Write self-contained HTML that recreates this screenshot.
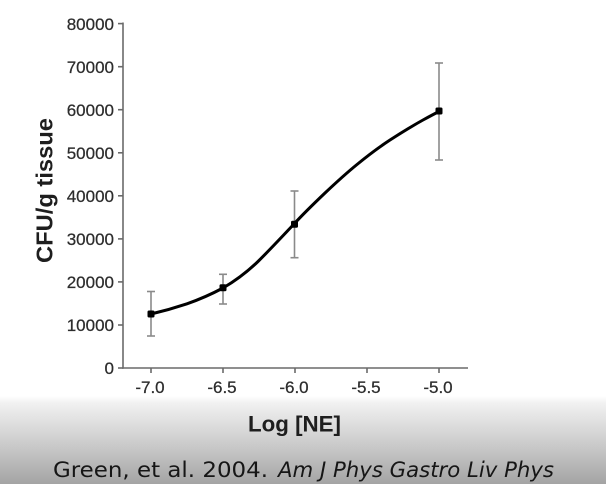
<!DOCTYPE html>
<html>
<head>
<meta charset="utf-8">
<style>
  html,body{margin:0;padding:0;}
  body{width:606px;height:484px;overflow:hidden;background:#fff;}
  svg{display:block;}
</style>
</head>
<body>
<svg width="606" height="484" viewBox="0 0 606 484" xmlns="http://www.w3.org/2000/svg">
  <defs>
    <linearGradient id="bg" x1="0" y1="0" x2="0" y2="1">
      <stop offset="0" stop-color="#ffffff"/>
      <stop offset="0.08" stop-color="#f1f1f1"/>
      <stop offset="0.5" stop-color="#cfcfcf"/>
      <stop offset="1" stop-color="#a4a4a4"/>
    </linearGradient>
  </defs>
  <rect x="0" y="0" width="606" height="484" fill="#ffffff"/>
  <rect x="0" y="396" width="606" height="88" fill="url(#bg)"/>

  <!-- axes -->
  <g stroke="#6a6a6a" stroke-width="1.6" fill="none">
    <line x1="123" y1="22.5" x2="123" y2="368.8"/>
    <line x1="122.2" y1="368" x2="468" y2="368"/>
    <line x1="118" y1="368" x2="123" y2="368"/>
    <line x1="118" y1="325" x2="123" y2="325"/>
    <line x1="118" y1="281.9" x2="123" y2="281.9"/>
    <line x1="118" y1="238.9" x2="123" y2="238.9"/>
    <line x1="118" y1="195.8" x2="123" y2="195.8"/>
    <line x1="118" y1="152.8" x2="123" y2="152.8"/>
    <line x1="118" y1="109.7" x2="123" y2="109.7"/>
    <line x1="118" y1="66.7" x2="123" y2="66.7"/>
    <line x1="118" y1="23.6" x2="123" y2="23.6"/>
    <line x1="151" y1="368" x2="151" y2="373"/>
    <line x1="223" y1="368" x2="223" y2="373"/>
    <line x1="295" y1="368" x2="295" y2="373"/>
    <line x1="367" y1="368" x2="367" y2="373"/>
    <line x1="439" y1="368" x2="439" y2="373"/>
  </g>

  <!-- y tick labels -->
  <g font-family="Liberation Sans, Arial, sans-serif" font-size="17" fill="#2c2c2c" stroke="#2c2c2c" stroke-width="0.25" text-anchor="end">
    <text x="114" y="374">0</text>
    <text x="114" y="331">10000</text>
    <text x="114" y="288">20000</text>
    <text x="114" y="245">30000</text>
    <text x="114" y="202">40000</text>
    <text x="114" y="159">50000</text>
    <text x="114" y="116">60000</text>
    <text x="114" y="73">70000</text>
    <text x="114" y="30">80000</text>
  </g>

  <!-- x tick labels -->
  <g font-family="Liberation Sans, Arial, sans-serif" font-size="17" fill="#2c2c2c" stroke="#2c2c2c" stroke-width="0.25" text-anchor="middle">
    <text x="150" y="393">-7.0</text>
    <text x="222" y="393">-6.5</text>
    <text x="294" y="393">-6.0</text>
    <text x="366" y="393">-5.5</text>
    <text x="438" y="393">-5.0</text>
  </g>

  <!-- axis titles -->
  <text x="294.5" y="431.5" font-family="Liberation Sans, Arial, sans-serif" font-size="22" font-weight="bold" fill="#1e1e1e" text-anchor="middle" textLength="93" lengthAdjust="spacingAndGlyphs">Log [NE]</text>
  <text transform="translate(52.5,190.5) rotate(-90)" x="0" y="0" font-family="Liberation Sans, Arial, sans-serif" font-size="23" font-weight="bold" fill="#1e1e1e" text-anchor="middle" textLength="145" lengthAdjust="spacingAndGlyphs">CFU/g tissue</text>

  <!-- error bars -->
  <g stroke="#8a8a8a" stroke-width="1.6" fill="none">
    <line x1="151" y1="291.5" x2="151" y2="336"/>
    <line x1="147" y1="291.5" x2="155" y2="291.5"/>
    <line x1="147" y1="336" x2="155" y2="336"/>

    <line x1="223" y1="274.3" x2="223" y2="304"/>
    <line x1="219" y1="274.3" x2="227" y2="274.3"/>
    <line x1="219" y1="304" x2="227" y2="304"/>

    <line x1="294.5" y1="191" x2="294.5" y2="257.7"/>
    <line x1="290.5" y1="191" x2="298.5" y2="191"/>
    <line x1="290.5" y1="257.7" x2="298.5" y2="257.7"/>

    <line x1="439" y1="63" x2="439" y2="160"/>
    <line x1="435" y1="63" x2="443" y2="63"/>
    <line x1="435" y1="160" x2="443" y2="160"/>
  </g>

  <!-- fitted curve -->
  <path d="M151,314 C163,311.2 175,307.8 187,303.8 C199,299.6 211,294.4 223,288 C234.7,281.2 246.3,272.8 258,261.5 C270,249.6 282,236.8 294,224 C304.3,212.8 314.7,202.8 325,193 C335.7,182.9 346.3,173.2 357,164.5 C368,155.5 379,147.2 390,140 C401,132.9 412,126.1 423,120 C428.3,117.1 433.7,114.2 439,111.5"
        fill="none" stroke="#000" stroke-width="3" stroke-linecap="round" stroke-linejoin="round"/>

  <!-- markers -->
  <g fill="#000">
    <rect x="147.5" y="310.5" width="7" height="7" rx="1.5"/>
    <rect x="219.5" y="284.3" width="7" height="7" rx="1.5"/>
    <rect x="291" y="220.8" width="7" height="7" rx="1.5"/>
    <rect x="435.5" y="107.5" width="7" height="7" rx="1.5"/>
  </g>

  <!-- caption -->
  <text x="53" y="477" font-family="DejaVu Sans, Liberation Sans, sans-serif" font-size="21" fill="#161616" textLength="215" lengthAdjust="spacingAndGlyphs">Green, et al. 2004.</text>
  <text x="278" y="477" font-family="DejaVu Sans, Liberation Sans, sans-serif" font-size="21" font-style="italic" fill="#161616" textLength="276" lengthAdjust="spacingAndGlyphs">Am J Phys Gastro Liv Phys</text>
</svg>
</body>
</html>
